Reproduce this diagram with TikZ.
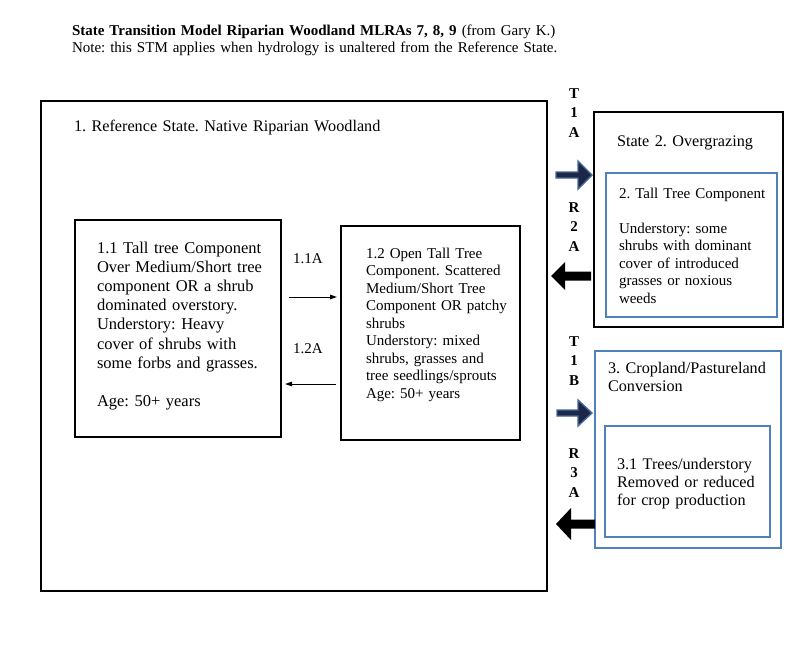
\documentclass[tikz,border=0pt]{standalone}
\usepackage{fontspec}
\setmainfont{Liberation Serif}
\usetikzlibrary{calc,arrows.meta}
\definecolor{wblue}{RGB}{79,129,189}
\definecolor{navyfill}{RGB}{28,38,70}
\definecolor{arrowedge}{RGB}{70,105,155}
\newcommand\fatarr[6]{%
  \draw[#1] ($(#2)+(0,#6)$) -- ($(#3)+(#4,#6)$) -- ($(#3)+(#4,#5)$) -- (#3)
    -- ($(#3)+(#4,-#5)$) -- ($(#3)+(#4,-#6)$) -- ($(#2)+(0,-#6)$) -- cycle;}
\frenchspacing
\begin{document}
\begin{tikzpicture}[x=1pt,y=-1pt,
  box/.style={draw=black,line width=2.6pt,inner sep=0pt,outer sep=0pt,anchor=north west},
  sbox/.style={draw=black,line width=2.2pt,inner sep=0pt,outer sep=0pt,anchor=north west},
  bbox/.style={draw=wblue,line width=2pt,inner sep=0pt,outer sep=0pt,anchor=north west},
  txt/.style={anchor=base west,inner sep=0pt,outer sep=0pt,align=left,text width=#1},
  f15/.style={font=\frenchspacing\fontsize{15}{17.5}\selectfont},
  f16/.style={font=\frenchspacing\fontsize{16.2}{18.5}\selectfont},
  stack/.style={anchor=base,inner sep=0pt,outer sep=0pt,align=center,text width=20pt,
    font=\bfseries\fontsize{15}{19.6}\selectfont},
  thinarrow/.style={line width=1pt,-{Triangle[length=7pt,width=4.5pt]}},
  bluearrow/.style={fill=navyfill,draw=arrowedge,line width=1.4pt,line join=miter},
  blackarrow/.style={fill=black,draw=none}
]
\useasboundingbox (0,0) rectangle (800,659);

% title
\node[txt=720pt,font=\frenchspacing\fontsize{15}{17}\selectfont] (title) at (72,35)
  {\textbf{State Transition Model Riparian Woodland MLRAs 7, 8, 9} (from Gary K.)\\
   Note: this STM applies when hydrology is unaltered from the Reference State.};

% state 1
\node[box,minimum width=506pt,minimum height=490pt] (ref) at (41,101) {};
\node[txt=350pt,f16] (reflabel) at (74,131) {1. Reference State. Native Riparian Woodland};

\node[sbox,minimum width=206pt,minimum height=217pt] (b11) at (75,220) {};
\node[txt=190pt,font=\frenchspacing\fontsize{16.5}{19.2}\selectfont] (t11) at (97,253)
  {1.1 Tall tree Component\\Over Medium/Short tree\\component OR a shrub\\dominated overstory.\\Understory: Heavy\\cover of shrubs with\\some forbs and grasses.\\[19.2pt]Age: 50+ years};

\node[sbox,minimum width=179pt,minimum height=214pt] (b12) at (341,226) {};
\node[txt=170pt,f15] (t12) at (366,258)
  {1.2 Open Tall Tree\\Component. Scattered\\Medium/Short Tree\\Component OR patchy\\shrubs\\Understory: mixed\\shrubs, grasses and\\tree seedlings/sprouts\\Age: 50+ years};

\node[txt=40pt,f15] (l11a) at (293,263) {1.1A};
\node[txt=40pt,f15] (l12a) at (293,353) {1.2A};
\draw[thinarrow] ([xshift=8pt]b11.east |- 0,297) -- ([xshift=-4pt]b12.west |- 0,297);
\draw[thinarrow] ([xshift=-5pt]b12.west |- 0,384) -- ([xshift=4pt]b11.east |- 0,384);

% state 2
\node[box,minimum width=189pt,minimum height=215pt] (s2) at (594,112) {};
\node[txt=170pt,f16] (s2label) at (617,146) {State 2. Overgrazing};
\node[bbox,minimum width=171pt,minimum height=144pt] (s2in) at (606,173) {};
\node[txt=160pt,f15] (t2) at (619,198)
  {2. Tall Tree Component\\[17.5pt]Understory: some\\shrubs with dominant\\cover of introduced\\grasses or noxious\\weeds};

% state 3
\node[bbox,minimum width=186pt,minimum height=197pt] (s3) at (595,351) {};
\node[txt=175pt,f16] (s3label) at (608,373)
  {3. Cropland/Pastureland\\Conversion};
\node[bbox,minimum width=165pt,minimum height=111pt] (s3in) at (605,426) {};
\node[txt=155pt,font=\frenchspacing\fontsize{16.2}{18.2}\selectfont] (t3) at (617,469)
  {3.1 Trees/understory\\Removed or reduced\\for crop production};

% transition labels
\node[stack] (lt1a) at (574,98) {T\\1\\A};
\node[stack] (lr2a) at (574,212) {R\\2\\A};
\node[stack] (lt1b) at (574,346) {T\\1\\B};
\node[stack] (lr3a) at (574,458) {R\\3\\A};

% fat arrows
\coordinate (t1a-a) at (556,175);
\coordinate (t1a-b) at ([xshift=-2pt]s2.west |- 0,175);
\coordinate (r2a-a) at ([xshift=-3pt]s2.west |- 0,276);
\coordinate (r2a-b) at (551,276);
\coordinate (t1b-a) at (557,413);
\coordinate (t1b-b) at ([xshift=-3pt]s3.west |- 0,413);
\coordinate (r3a-a) at (s3.west |- 0,524);
\coordinate (r3a-b) at (556,524);
\fatarr{bluearrow}{t1a-a}{t1a-b}{-14}{14}{3}
\fatarr{blackarrow}{r2a-a}{r2a-b}{14}{14}{4.5}
\fatarr{bluearrow}{t1b-a}{t1b-b}{-14}{13}{3}
\fatarr{blackarrow}{r3a-a}{r3a-b}{15}{16}{4.5}
\end{tikzpicture}
\end{document}
